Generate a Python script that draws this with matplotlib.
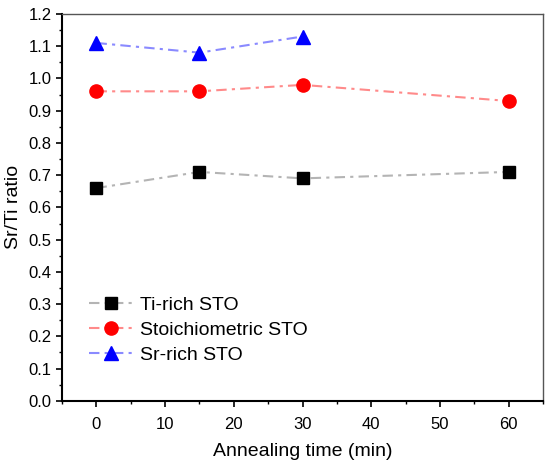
import matplotlib
matplotlib.use("Agg")
import matplotlib.pyplot as plt
from matplotlib.ticker import MultipleLocator

plt.rcParams['font.family'] = ['Liberation Sans', 'DejaVu Sans']

time = [0, 15, 30, 60]
ti_rich = [0.66, 0.71, 0.69, 0.71]
stoich = [0.96, 0.96, 0.98, 0.93]
time_sr = [0, 15, 30]
sr_rich = [1.11, 1.08, 1.13]

fig = plt.figure(figsize=(5.5, 4.65), dpi=100)
ax = fig.add_axes([0.113, 0.138, 0.874, 0.832])

dash = (0, (5, 2.5, 1.5, 2.5))
ax.plot(time, ti_rich, linestyle=dash, color='#b4b4b4', lw=1.5,
        marker='s', ms=8, mfc='black', mec='black', label='Ti-rich STO')
ax.plot(time, stoich, linestyle=dash, color='#ff8a8a', lw=1.5,
        marker='o', ms=9.5, mfc='red', mec='red', label='Stoichiometric STO')
ax.plot(time_sr, sr_rich, linestyle=dash, color='#8a8aff', lw=1.5,
        marker='^', ms=10, mfc='blue', mec='blue', label='Sr-rich STO')

ax.set_xlim(-5, 65)
ax.set_ylim(0, 1.2)
ax.xaxis.set_major_locator(MultipleLocator(10))
ax.xaxis.set_minor_locator(MultipleLocator(5))
ax.yaxis.set_major_locator(MultipleLocator(0.1))
ax.yaxis.set_minor_locator(MultipleLocator(0.05))
ax.yaxis.set_major_formatter(plt.FuncFormatter(lambda v, p: f"{v:.1f}"))
ax.tick_params(which='major', direction='out', length=4.5, width=1.2, labelsize=12)
ax.tick_params(which='minor', direction='out', length=2.5, width=1)
ax.tick_params(axis='x', which='major', pad=7)
ax.tick_params(axis='y', which='major', pad=3)

for s in ['left', 'bottom']:
    ax.spines[s].set_linewidth(1.5)
for s in ['top', 'right']:
    ax.spines[s].set_linewidth(1)
    ax.spines[s].set_color('#555555')

ax.set_xlabel('Annealing time (min)', fontsize=14, labelpad=8)
ax.set_ylabel('Sr/Ti ratio', fontsize=14, labelpad=5)

ax.legend(loc='upper left', bbox_to_anchor=(0.04, 0.29), frameon=False,
          fontsize=14, handlelength=2.2, handletextpad=0.4,
          labelspacing=0.37, borderaxespad=0)

fig.savefig('out.png', dpi=100)
